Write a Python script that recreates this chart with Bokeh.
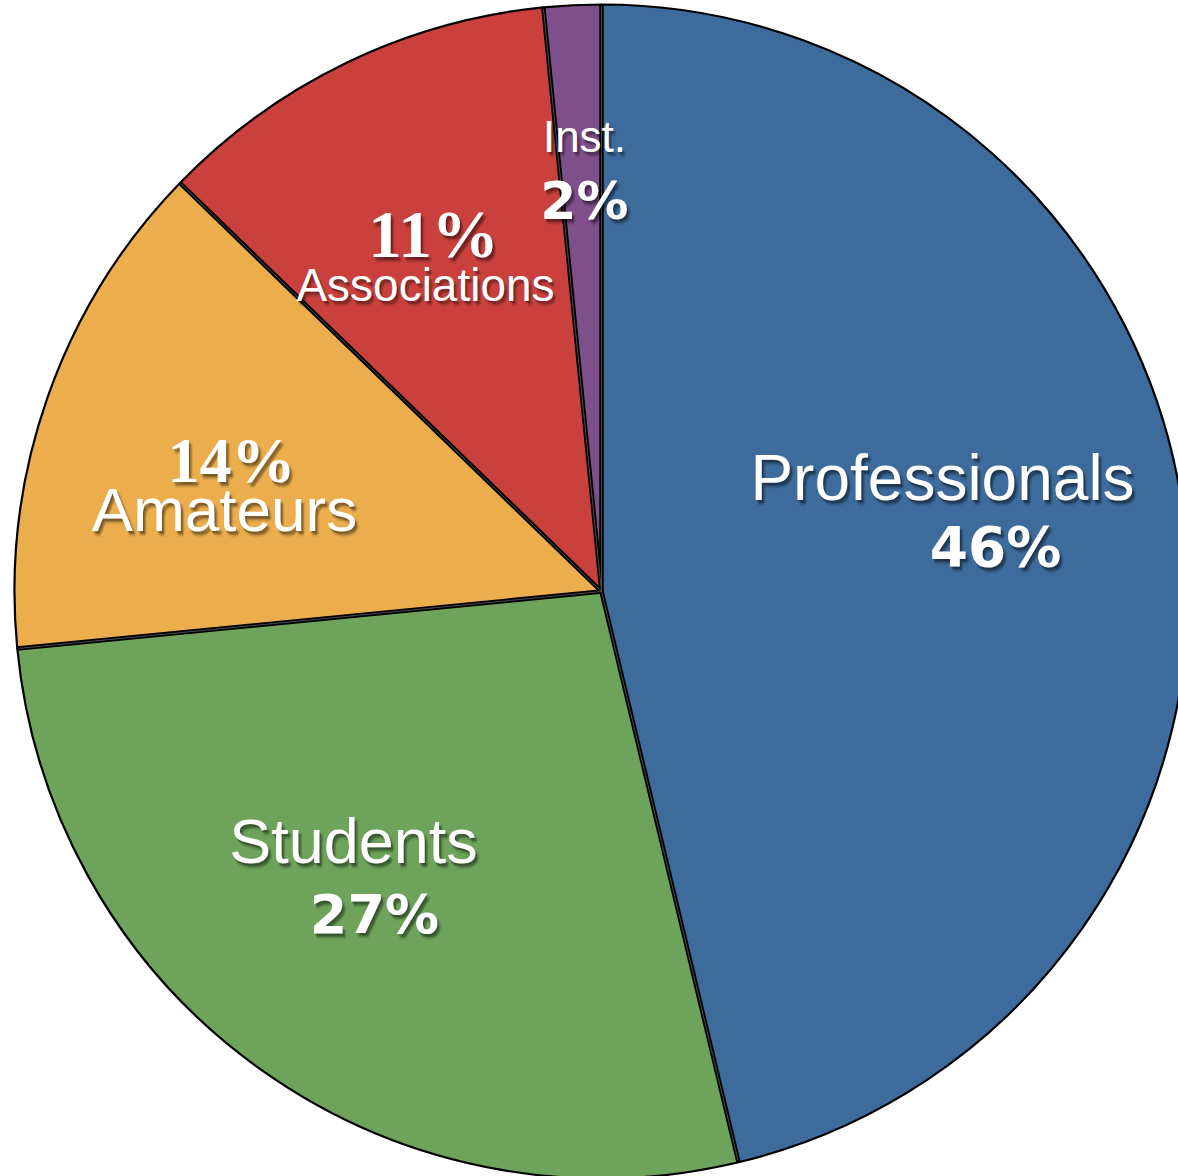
import math
from bokeh.plotting import figure
from bokeh.models import Range1d, ColumnDataSource
from bokeh.core.properties import value
from bokeh.embed import file_html
from bokeh.resources import INLINE

# ---- data ----
categories = ["Professionals", "Students", "Amateurs", "Associations", "Inst."]
shares = [46.25, 27.2, 13.8, 11.17, 1.58]
pct_labels = ["46%", "27%", "14%", "11%", "2%"]
colors = ["#3D6B9B", "#6DA35A", "#ECAE4C", "#C9403D", "#7E4F8A"]

# ---- layout ----
W, H = 1178, 1176
def px(x):
    return x
def py(y):
    return H - y

CX, CY, R = px(601), py(591), 587

total = sum(shares)
starts, ends = [], []
cum = 0.0
for s in shares:
    a0 = math.pi / 2 - 2 * math.pi * cum / total
    cum += s
    a1 = math.pi / 2 - 2 * math.pi * cum / total
    starts.append(a0)
    ends.append(a1)

src = ColumnDataSource(dict(cat=categories, share=shares, start=starts, end=ends, color=colors))

p = figure(width=W, height=H, x_range=Range1d(0, W), y_range=Range1d(0, H),
           output_backend="svg", toolbar_location=None, min_border=0)
p.axis.visible = False
p.grid.visible = False
p.outline_line_color = None
p.background_fill_color = "white"
p.border_fill_color = "white"

p.wedge(x=CX, y=CY, radius=R, start_angle="start", end_angle="end", direction="clock",
        fill_color="color", line_color="black", line_width=2.2, source=src)

# radial separators (double line look)
p.ray(x=CX, y=CY, length=R, angle=starts, line_color="black", line_width=4.5)
p.ray(x=CX, y=CY, length=R - 2, angle=starts, line_color="#4a4a4a", line_width=1)

# ---- labels (image-pixel positions: center x, baseline y) ----
name_pos = [(942, 502), (353, 865), (224, 533), (425, 302), (584, 153)]
name_size = [64, 63, 62, 46, 44]
pct_pos = [(995, 568), (374, 935), (231, 485), (433, 260), (584, 221)]
pct_font = ["DejaVu Sans", "DejaVu Sans", "Liberation Serif", "Liberation Serif", "DejaVu Sans"]
pct_size = [55, 54, 64, 67, 52]

shadow_offsets = [(1, 2, 0.16), (2, 3, 0.14), (3, 4, 0.11), (2, 5, 0.08), (4, 3, 0.07), (3, 6, 0.05)]

def draw_text(txt, x, y, font, size, bold):
    style = "bold" if bold else "normal"
    y = y - 0.39 * size  # baseline correction
    fs = "%dpx" % size
    for dx, dy, a in shadow_offsets:
        p.text(x=[px(x) + dx], y=[py(y) - dy], text=[txt], text_align="center",
               text_baseline="alphabetic", text_font=value(font), text_font_size=fs,
               text_font_style=style, text_color="black", text_alpha=a)
    p.text(x=[px(x)], y=[py(y)], text=[txt], text_align="center",
           text_baseline="alphabetic", text_font=value(font), text_font_size=fs,
           text_font_style=style, text_color="white")

for i, c in enumerate(categories):
    draw_text(c, name_pos[i][0], name_pos[i][1], "Liberation Sans", name_size[i], False)
    draw_text(pct_labels[i], pct_pos[i][0], pct_pos[i][1], pct_font[i], pct_size[i], True)

open("out.html", "w").write(file_html(p, INLINE))
